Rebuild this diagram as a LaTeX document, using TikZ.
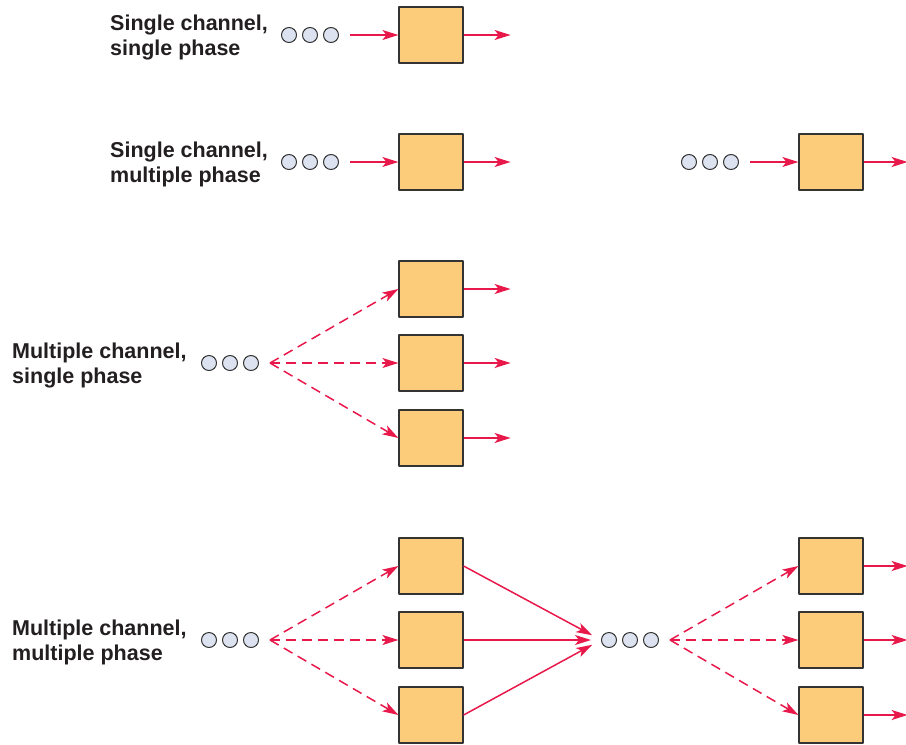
\documentclass[tikz,border=0pt]{standalone}
\usepackage{fontspec}
\setmainfont{Liberation Sans}
\usetikzlibrary{arrows.meta, positioning}

\definecolor{boxfill}{HTML}{FDCC7B}
\definecolor{dotfill}{HTML}{DCE2F0}
\definecolor{flowred}{HTML}{E8194A}
\definecolor{edgegray}{HTML}{333333}
\definecolor{textgray}{HTML}{231F20}

\begin{document}
\begin{tikzpicture}[x=1pt, y=-1pt, line join=round,
    server/.style={draw=edgegray, line width=1.2pt, fill=boxfill,
      minimum width=64pt, minimum height=56pt, inner sep=0pt},
    dot/.style={circle, draw=edgegray, line width=1pt, fill=dotfill,
      minimum size=15pt, inner sep=0pt},
    flow/.style={draw=flowred, line width=1.5pt,
      -{Stealth[length=16pt, width=10pt, inset=4pt]}},
    split/.style={flow, dash pattern=on 10pt off 6pt},
    lbl/.style={anchor=west, align=left, inner sep=0pt, text=textgray,
      font=\fontsize{21.5}{25}\selectfont\bfseries}]
  \useasboundingbox (0,0) rectangle (906,745);

  % single channel, single phase
  \node[lbl] (lab1) at (110,37.5) {Single channel,\\single phase};
  \foreach \n/\x in {a/289,b/310,c/331}
    \node[dot] (q1\n) at (\x,35) {};
  \node[server] (s1) at (431,35) {};
  \coordinate[right=11pt of q1c] (in1);
  \coordinate[right=47pt of s1] (out1);
  \draw[flow] (in1) -- (s1);
  \draw[flow] (s1) -- (out1);

  % single channel, multiple phase
  \node[lbl] (lab2) at (110,164.5) {Single channel,\\multiple phase};
  \foreach \n/\x in {a/289,b/310,c/331}
    \node[dot] (q2\n) at (\x,162) {};
  \node[server] (s2) at (431,162) {};
  \coordinate[right=11pt of q2c] (in2);
  \coordinate[right=47pt of s2] (out2);
  \draw[flow] (in2) -- (s2);
  \draw[flow] (s2) -- (out2);
  \foreach \n/\x in {a/689,b/710,c/731}
    \node[dot] (q2r\n) at (\x,162) {};
  \node[server] (s2r) at (831,162) {};
  \coordinate[right=11pt of q2rc] (in2r);
  \coordinate[right=44pt of s2r] (out2r);
  \draw[flow] (in2r) -- (s2r);
  \draw[flow] (s2r) -- (out2r);

  % multiple channel, single phase
  \node[lbl] (lab3) at (12,365.5) {Multiple channel,\\single phase};
  \foreach \n/\x in {a/209,b/230,c/251}
    \node[dot] (q3\n) at (\x,363) {};
  \coordinate[right=11pt of q3c] (f3);
  \foreach \n/\y in {a/289,b/363,c/438} {
    \node[server] (s3\n) at (431,\y) {};
    \coordinate[right=47pt of s3\n] (o3\n);
    \draw[split] (f3) -- (s3\n.west);
    \draw[flow] (s3\n) -- (o3\n);
  }

  % multiple channel, multiple phase
  \node[lbl] (lab4) at (12,642.5) {Multiple channel,\\multiple phase};
  \foreach \n/\x in {a/209,b/230,c/251}
    \node[dot] (q4\n) at (\x,640) {};
  \foreach \n/\x in {a/609,b/630,c/651}
    \node[dot] (q4m\n) at (\x,640) {};
  \coordinate[right=11pt of q4c] (f4);
  \coordinate[right=11pt of q4mc] (f4r);
  \foreach \n/\y in {a/566,b/640,c/715} {
    \node[server] (s4\n) at (431,\y) {};
    \node[server] (s4r\n) at (831,\y) {};
    \coordinate[right=44pt of s4r\n] (o4\n);
    \draw[split] (f4) -- (s4\n.west);
    \draw[flow, shorten >=10pt] (s4\n.east) -- (q4ma.west);
    \draw[split] (f4r) -- (s4r\n.west);
    \draw[flow] (s4r\n) -- (o4\n);
  }
\end{tikzpicture}
\end{document}
